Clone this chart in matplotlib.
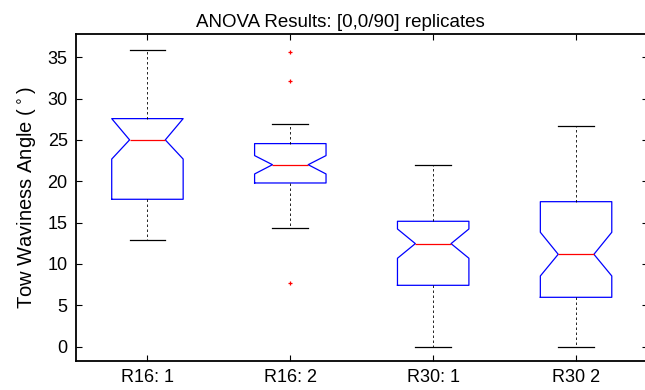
"""Notched boxplots of tow waviness angle per replicate."""

import matplotlib

matplotlib.use("Agg")
import matplotlib.pyplot as plt

plt.rcParams["font.family"] = ["Liberation Sans", "DejaVu Sans"]

# Box statistics per group
labels = ["R16: 1", "R16: 2", "R30: 1", "R30 2"]
whisker_low = [12.87, 14.4, 0.0, 0.0]
q1 = [17.82, 19.79, 7.42, 5.97]
medians = [25.0, 22.0, 12.46, 11.17]
q3 = [27.57, 24.55, 15.16, 17.53]
whisker_high = [35.9, 26.9, 21.97, 26.69]
notch_low = [22.68, 20.88, 10.69, 8.55]
notch_high = [27.57, 23.1, 14.23, 13.83]
outliers = [[], [35.6, 32.09, 7.74], [], []]


def build_stats():
    stats = []
    for i, lab in enumerate(labels):
        stats.append(
            {
                "label": lab,
                "whislo": whisker_low[i],
                "q1": q1[i],
                "med": medians[i],
                "q3": q3[i],
                "whishi": whisker_high[i],
                "cilo": notch_low[i],
                "cihi": notch_high[i],
                "fliers": outliers[i],
            }
        )
    return stats


def main():
    fig = plt.figure(figsize=(6.45, 3.9), dpi=100)
    ax = fig.add_axes([76 / 645, 29 / 390, 571.5 / 645, 327 / 390])

    ax.bxp(
        build_stats(),
        positions=[1, 2, 3, 4],
        widths=0.5,
        shownotches=True,
        boxprops={"color": "blue", "linewidth": 0.9},
        medianprops={"color": "red", "linewidth": 0.9},
        whiskerprops={"color": "black", "linestyle": (0, (3, 3)), "linewidth": 0.6},
        capprops={"color": "black", "linewidth": 0.9},
        flierprops={
            "marker": "+",
            "markeredgecolor": "red",
            "markersize": 3.5,
            "markeredgewidth": 0.9,
            "linestyle": "none",
        },
    )

    ax.set_xlim(0.5, 4.5)
    ax.set_ylim(-1.73, 37.8)
    ax.set_yticks(range(0, 40, 5))
    ax.set_xticks([1, 2, 3, 4])
    ax.set_xticklabels(labels)

    ax.tick_params(
        direction="in",
        length=4,
        width=0.8,
        top=True,
        right=True,
        labelsize=13,
        pad=6,
    )
    for spine in ax.spines.values():
        spine.set_linewidth(1.3)

    ax.set_ylabel(r"Tow Waviness Angle ($^\circ$)", fontsize=14.5, labelpad=7)
    ax.set_title("ANOVA Results: [0,0/90] replicates", fontsize=13.5, pad=5, x=0.462)

    fig.savefig("out.png", dpi=100)


if __name__ == "__main__":
    main()
